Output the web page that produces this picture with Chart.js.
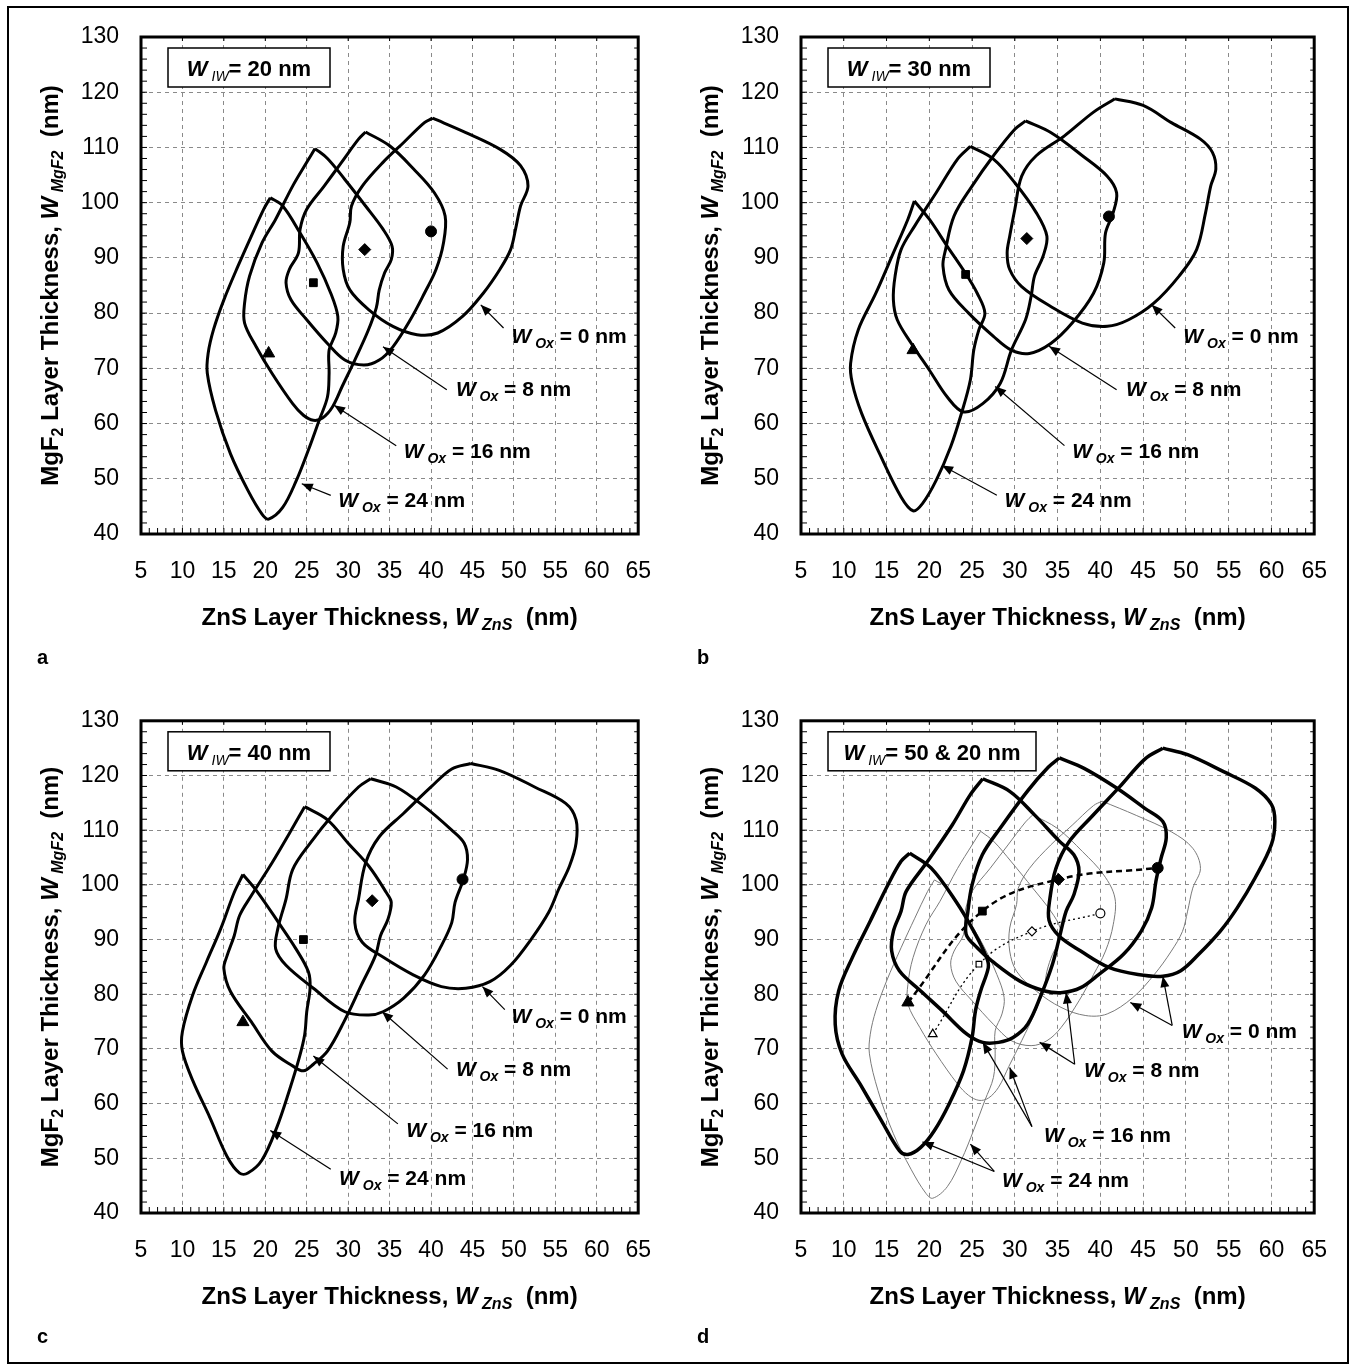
<!DOCTYPE html>
<html>
<head>
<meta charset="utf-8">
<script src="https://cdn.jsdelivr.net/npm/chart.js@4.4.1/dist/chart.umd.min.js"></script>
<style>
  html, body { margin: 0; padding: 0; background: #fff; }
  #page { position: relative; width: 1351px; height: 1370px; }
  #frame { position: absolute; left: 7px; top: 6px; width: 1342px; height: 1358px; border: 2px solid #000; box-sizing: border-box; pointer-events: none; }
  canvas { position: absolute; }
</style>
</head>
<body>
<div id="page">
  <div id="frame"></div>
  <canvas id="pa" width="675" height="685" style="left:0;top:0"></canvas>
  <canvas id="pb" width="676" height="685" style="left:675px;top:0"></canvas>
  <canvas id="pc" width="675" height="685" style="left:0;top:685px"></canvas>
  <canvas id="pd" width="676" height="685" style="left:675px;top:685px"></canvas>
</div>
<script>
// axis ticks
const xTicks = [5, 10, 15, 20, 25, 30, 35, 40, 45, 50, 55, 60, 65];
const yTicks = [40, 50, 60, 70, 80, 90, 100, 110, 120, 130];
const oxValues = [0, 8, 16, 24];
const iwLabels = ['20 nm', '30 nm', '40 nm', '50 & 20 nm'];

// contours [ZnS, MgF2] for W_IW = 20 nm
const iw20_ox0 = [[40.2,115.3],[44.2,112.7],[48.3,109.7],[50.8,106.7],[51.7,103],[50.8,99.4],[50.2,95.2],[49.6,91.5],[48.3,87.9],[46.3,83.6],[43.8,79.4],[40.8,76.4],[38.3,76.1],[35.4,77.6],[32.5,80.6],[30.2,84.2],[29.4,87.9],[29.4,92.1],[30.2,96.4],[30.4,99.4],[31.7,103],[34.2,107.3],[36.7,110.9],[39.2,114.5],[40.2,115.3]];
const iw20_ox8 = [[32.1,112.8],[35,110.3],[37.9,106.1],[40.4,101.8],[41.7,97.6],[41.5,92.7],[40.6,87.9],[39.2,83.6],[37.5,78.8],[35.4,73.9],[33.75,71.5],[31.9,70.6],[29.6,71.5],[27.5,74.5],[25,78.8],[23.1,82.4],[22.5,85.5],[22.9,87.9],[24,90.9],[24.2,95.2],[25,98.8],[27.1,103],[29.2,107.3],[31.25,111.5],[32.1,112.8]];
const iw20_ox16 = [[26,109.8],[27.5,108],[29.6,104.2],[32.1,99.4],[34.2,95.2],[35.3,92.1],[35.2,89.7],[34.4,87.3],[33.75,84.2],[33.4,81],[32.4,76.8],[30.8,71.5],[29.3,66.8],[28.1,63],[26.9,61],[25.8,60.6],[24.6,61.5],[23.3,63.6],[20.8,69.1],[18.9,73.9],[17.5,78.2],[17.5,81.8],[18.1,86.7],[19.6,92.7],[21.25,97],[23.3,103],[25,107.3],[26,109.8]];
const iw20_ox24 = [[20.6,100.9],[22.1,99.4],[24.2,94.5],[26.25,89.1],[27.9,83.6],[28.75,79.4],[28.5,76.4],[27.7,73.3],[27.7,69.1],[27.5,64.8],[26.5,60.6],[25.2,55.2],[23.75,49.7],[22.1,44.8],[20.4,42.7],[19.6,43.6],[17.9,47.9],[15.8,54.5],[14,62.4],[13,69.1],[13.1,72.7],[13.75,77],[15,82.4],[16.7,88.5],[18.3,93.9],[19.8,98.8],[20.6,100.9]];
const iw20_opt = [[20.4,72.7],[25.8,85.5],[32,91.5],[40,94.8]];

// W_IW = 30 nm
const iw30_ox0 = [[41.7,118.8],[45,117.6],[48.3,114.5],[51.7,111.5],[53.1,109.1],[53.5,106.1],[52.9,103],[52.3,98.2],[51.25,91.5],[49.2,86.7],[46.25,81.8],[43.3,78.8],[40.8,77.6],[37.9,78.2],[34.2,81.2],[30.8,84.8],[29.4,87.9],[29.1,90.9],[29.4,93.9],[30,98.8],[30.8,104.8],[32.5,108.5],[35.8,112.1],[39.2,116.4],[41.7,118.8]];
const iw30_ox8 = [[31.25,114.8],[34.2,112.7],[37.9,108.5],[40.8,104.8],[41.9,101.8],[41.5,98.2],[40.6,94.5],[40.4,89.1],[39.2,83.6],[36.7,78.2],[34.2,74.5],[31.7,72.7],[29.6,73.3],[27.5,75.8],[24.6,80],[22.3,84.2],[21.6,88.5],[21.9,91.5],[22.9,97.6],[25,103],[27.5,108.5],[30,113.3],[31.25,114.8]];
const iw30_ox16 = [[24.8,110.2],[27.5,107.9],[30,103.6],[32.5,98.2],[33.75,93.9],[33.3,90.3],[32.3,86.7],[31.9,83],[31.25,78.8],[29.6,73.3],[28.3,67.3],[26.25,63.6],[24,62.1],[22.1,64.8],[20,69.7],[17.9,74.5],[16.25,78.8],[15.8,82.4],[16,86.7],[16.7,91.5],[18.3,95.8],[20.8,101.8],[23.3,107.9],[24.8,110.2]];
const iw30_ox24 = [[18.25,100.3],[20,97],[22.1,92.1],[24.2,87.3],[25.6,83.6],[26.5,80],[25.8,77],[25.2,73.3],[24.8,67.9],[23.75,61.8],[22.5,55.8],[20.8,49.7],[19.2,45.5],[18.1,44.2],[16.7,46.7],[14.2,54.5],[12.1,61.8],[11,67.3],[10.8,70.9],[11.7,77],[13.75,83.6],[15.8,90.9],[17.5,97],[18.25,100.3]];
const iw30_opt = [[18.1,73.3],[24.25,87],[31.4,93.5],[41,97.5]];

// W_IW = 40 nm
const iw40_ox0 = [[44.8,122.2],[48.3,120.9],[52.5,117.9],[56.25,114.9],[57.5,111.9],[57.5,107.6],[56.7,103.4],[55.4,99.2],[54.2,95],[52.1,90.1],[49.6,85.3],[47.1,82.3],[44.2,81.1],[41.25,81.4],[37.9,83.5],[34.2,86.8],[31.7,89.5],[30.8,93.1],[31.25,97.4],[32.1,104],[33.75,108.8],[36.7,113.1],[40,117.9],[42.5,121.2],[44.8,122.2]];
const iw40_ox8 = [[32.7,119.4],[35.8,117.9],[39.2,114.3],[42.5,110],[44,107.6],[44.4,104.6],[43.9,101],[42.9,96.8],[42.5,93.1],[41.25,88.9],[39.2,83.5],[36.7,79.3],[34.2,76.8],[32.5,76.2],[29.6,76.8],[25.8,81.1],[22.5,85.3],[21.25,88.3],[21.5,91.9],[22.5,97.4],[23.3,102.8],[25.4,107.6],[28.3,113.1],[31.25,117.9],[32.7,119.4]];
const iw40_ox16 = [[24.75,114.3],[27.5,111.9],[30,107.6],[32.5,103.4],[34.6,98.6],[35.2,96.8],[34.8,93.7],[33.9,90.7],[33.3,87.1],[31.6,81.7],[29.5,75],[27.5,69.6],[25.8,67.2],[24.6,66],[23.3,66.9],[20.8,69.6],[18.3,75],[15.8,80.5],[15,84.7],[15.4,87.1],[16.25,90.7],[16.9,94.4],[18.3,98],[20.8,104],[22.9,109.4],[24.75,114.3]];
const iw40_ox24 = [[17.3,101.9],[19.1,98.6],[21.6,93.1],[23.7,88.3],[25.2,84.1],[25.4,81.1],[25,76.8],[24.75,72.6],[24.1,68.4],[22.9,62.4],[21.4,55.7],[19.6,49.7],[17.9,47.3],[16.9,47.3],[15.4,50.3],[13.3,57.5],[11.25,64.2],[10,69.6],[10,73.2],[11.25,79.9],[12.9,85.9],[14.6,91.9],[16.25,98.6],[17.3,101.9]];
const iw40_opt = [[17.3,74.9],[24.6,90],[32.9,97.1],[43.8,101]];

// W_IW = 50 nm
const iw50_ox0 = [[47.3,125],[50.2,123.8],[54.4,120.7],[58.1,117.7],[60,114.7],[60.4,111.6],[60,107.4],[58.1,101.3],[56,95.8],[54,91.5],[51.5,87.3],[49.4,84.3],[47.3,83.3],[44.4,83.6],[41,84.9],[37.7,87.9],[35.2,90.6],[34,93.5],[34.1,97.5],[34.8,103],[36.3,107.8],[39,112.5],[42.3,118],[45.2,123],[47.3,125]];
const iw50_ox8 = [[35.2,123.2],[38.1,121.3],[41.9,117.7],[45.2,114],[47.3,111.6],[47.7,108.6],[47.1,104.9],[46.5,100.7],[46,95.8],[44.8,91.6],[42.7,87.3],[39.8,83.6],[37.7,81.2],[35.6,80.3],[33.5,80.6],[30.6,82.4],[27.3,86.1],[25.6,88.5],[24.3,91],[24.5,95],[25,100],[26.2,105.5],[28.3,110.4],[31.5,117.2],[33.9,121.5],[35.2,123.2]];
const iw50_ox16 = [[26.25,119.4],[29.4,117.1],[32.3,112.8],[35.2,108],[36.9,105.5],[37.5,102.5],[36.9,98.2],[36,95.2],[35.2,90.3],[34.4,85.5],[33.1,80],[31.5,74.5],[29.8,72.1],[28.1,71.2],[26.25,71.2],[24.4,72.7],[21.5,77],[19,80.6],[16.5,84.3],[15.6,87.9],[15.8,91.5],[16.7,95.2],[17.3,98.8],[19.8,104.3],[22.7,111],[24.8,116.5],[26.25,119.4]];
const iw50_ox24 = [[17.7,105.8],[20.2,103.1],[23.1,97],[25.2,91.5],[26.7,86.7],[26.9,84.9],[26,80.6],[25.4,77],[25,72.1],[24,66],[22.3,59.9],[20.6,55.1],[19,52],[17.5,50.7],[16.5,51.4],[14.4,56.9],[11.9,63.6],[9.8,69.1],[9,74.5],[9.4,80.6],[11,86.7],[13.1,93.4],[15.2,100.1],[16.7,104.3],[17.7,105.8]];
const iw50_opt = [[17.5,78.5],[26.2,95.2],[35.1,101],[46.7,103.1]];

const FONT = '"Liberation Sans", Arial, Helvetica, sans-serif';
const F = (style, size) => `${style} ${size}px ${FONT}`;
const toXY = arr => arr.map(p => ({ x: p[0], y: p[1] }));
const markerStyles = ['triangle', 'rect', 'rectRot', 'circle'];

function rich(ctx, parts, x, y, align) {
  let w = 0;
  for (const p of parts) { ctx.font = p.f; w += ctx.measureText(p.t).width; }
  let cx = align === 'center' ? x - w / 2 : x;
  ctx.textAlign = 'left';
  ctx.textBaseline = 'alphabetic';
  for (const p of parts) {
    ctx.font = p.f;
    ctx.fillText(p.t, cx, y + (p.dy || 0));
    cx += ctx.measureText(p.t).width;
  }
}

function arrow(ctx, x0, y0, x1, y1) {
  ctx.beginPath(); ctx.moveTo(x0, y0); ctx.lineTo(x1, y1); ctx.stroke();
  const a = Math.atan2(y1 - y0, x1 - x0), L = 11, W = 4.5;
  const bx = x1 - L * Math.cos(a), by = y1 - L * Math.sin(a);
  ctx.beginPath();
  ctx.moveTo(x1, y1);
  ctx.lineTo(bx + W * Math.sin(a), by - W * Math.cos(a));
  ctx.lineTo(bx - W * Math.sin(a), by + W * Math.cos(a));
  ctx.closePath(); ctx.fill();
}

const decor = {
  id: 'decor',
  afterDatasetsDraw(chart, args, o) {
    const { ctx, chartArea: a } = chart;
    const x = chart.scales.x, y = chart.scales.y;
    ctx.save();
    ctx.strokeStyle = '#000';
    ctx.fillStyle = '#000';
    ctx.lineWidth = 1;
    ctx.setLineDash([]);
    ctx.beginPath();
    for (let v = xTicks[0] + 1; v < xTicks[xTicks.length - 1]; v++) {
      const px = x.getPixelForValue(v);
      ctx.moveTo(px, a.bottom); ctx.lineTo(px, a.bottom - 6);
    }
    for (let v = yTicks[0] + 2; v < yTicks[yTicks.length - 1]; v += 2) {
      const py = y.getPixelForValue(v);
      ctx.moveTo(a.left, py); ctx.lineTo(a.left + 6, py);
      ctx.moveTo(a.right, py); ctx.lineTo(a.right - 4, py);
    }
    for (const v of xTicks.slice(1, -1)) {
      const px = x.getPixelForValue(v);
      ctx.moveTo(px, a.top); ctx.lineTo(px, a.top + 4);
    }
    ctx.stroke();
    ctx.lineWidth = 3;
    ctx.strokeRect(a.left, a.top, a.right - a.left, a.bottom - a.top);

    // W_IW box
    const bx = a.left + 27, by = a.top + 11;
    ctx.fillStyle = '#fff';
    ctx.fillRect(bx, by, o.boxW, 39);
    ctx.lineWidth = 1.5;
    ctx.strokeRect(bx, by, o.boxW, 39);
    ctx.fillStyle = '#000';
    rich(ctx, [
      { t: 'W', f: F('italic bold', 22) },
      { t: ' IW', f: F('italic', 14), dy: 5 },
      { t: '= ' + o.iw, f: F('bold', 22) }
    ], bx + o.boxW / 2, by + 28, 'center');

    // W_Ox labels and arrows
    ctx.lineWidth = 1.2;
    for (const lab of o.labels) {
      const tx = x.getPixelForValue(lab.tail[0]), ty = y.getPixelForValue(lab.tail[1]);
      for (const tip of lab.tips) {
        arrow(ctx, tx, ty, x.getPixelForValue(tip[0]), y.getPixelForValue(tip[1]));
      }
      rich(ctx, [
        { t: 'W', f: F('italic bold', 21) },
        { t: ' Ox', f: F('italic bold', 14), dy: 5 },
        { t: ' = ' + lab.ox + ' nm', f: F('bold', 21) }
      ], x.getPixelForValue(lab.at[0]), y.getPixelForValue(lab.at[1]) + 8, 'left');
    }
    ctx.restore();
  },
  afterDraw(chart, args, o) {
    const { ctx, chartArea: a } = chart;
    ctx.save();
    ctx.fillStyle = '#000';
    rich(ctx, [
      { t: 'ZnS Layer Thickness, ', f: F('bold', 24) },
      { t: 'W', f: F('italic bold', 24) },
      { t: ' ZnS', f: F('italic bold', 16), dy: 5 },
      { t: '  (nm)', f: F('bold', 24) }
    ], (a.left + a.right) / 2, a.bottom + 91, 'center');
    ctx.translate(a.left - 92, (a.top + a.bottom) / 2);
    ctx.rotate(-Math.PI / 2);
    rich(ctx, [
      { t: 'MgF', f: F('bold', 24) },
      { t: '2', f: F('bold', 16), dy: 5 },
      { t: ' Layer Thickness, ', f: F('bold', 24) },
      { t: 'W', f: F('italic bold', 24) },
      { t: ' MgF2', f: F('italic bold', 16), dy: 5 },
      { t: '  (nm)', f: F('bold', 24) }
    ], 0, 9, 'center');
    ctx.restore();
    ctx.save();
    ctx.fillStyle = '#000';
    ctx.font = F('bold', 20);
    ctx.textAlign = 'left';
    ctx.textBaseline = 'middle';
    ctx.fillText(o.letter, a.left - 104, a.bottom + 124);
    ctx.restore();
  }
};

function curve(arr, width, color) {
  return { data: toXY(arr), showLine: true, borderColor: color, borderWidth: width,
           pointRadius: 0, tension: 0.35, fill: false };
}
function markers(arr, filled, radii) {
  return { data: toXY(arr), showLine: false, pointStyle: markerStyles, pointRadius: radii,
           backgroundColor: filled ? '#000' : '#fff', borderColor: '#000', borderWidth: filled ? 1 : 1.2 };
}
function link(arr, width, dash) {
  return { data: toXY(arr), showLine: true, borderColor: '#000', borderWidth: width, borderDash: dash,
           pointRadius: 0, tension: 0.4, fill: false };
}

function makeChart(id, cfg) {
  const gridColor = c => (c.tick && (c.tick.value === xTicks[0] || c.tick.value === xTicks[xTicks.length - 1] ||
                                     (c.scale.axis === 'y' && (c.tick.value === yTicks[0] || c.tick.value === yTicks[yTicks.length - 1]))))
                         ? 'rgba(0,0,0,0)' : '#8a8a8a';
  return new Chart(document.getElementById(id), {
    type: 'scatter',
    data: { datasets: cfg.datasets },
    plugins: [decor],
    options: {
      responsive: false,
      animation: false,
      events: [],
      layout: { padding: cfg.pad },
      scales: {
        x: {
          type: 'linear', min: xTicks[0], max: xTicks[xTicks.length - 1],
          afterBuildTicks: s => { s.ticks = xTicks.map(v => ({ value: v })); },
          afterFit: s => { s.height = 60; },
          grid: { color: gridColor, lineWidth: 1, drawTicks: false },
          border: { display: false, dash: [4, 4] },
          ticks: { padding: 24, color: '#000', font: { family: FONT, size: 23 }, maxRotation: 0 }
        },
        y: {
          type: 'linear', min: yTicks[0], max: yTicks[yTicks.length - 1],
          afterBuildTicks: s => { s.ticks = yTicks.map(v => ({ value: v })); },
          afterFit: s => { s.width = 60; },
          grid: { color: gridColor, lineWidth: 1, drawTicks: false },
          border: { display: false, dash: [4, 4] },
          ticks: { padding: 22, color: '#000', font: { family: FONT, size: 23 } }
        }
      },
      plugins: {
        legend: { display: false },
        tooltip: { enabled: false },
        decor: { letter: cfg.letter, iw: cfg.iw, boxW: cfg.boxW, labels: cfg.labels }
      }
    }
  });
}

function setLabels(pos) {
  return oxValues.map((ox, i) => Object.assign({ ox }, pos[i]));
}

const topPad = { left: 81, right: 19, top: 37, bottom: 91 };
const topPadR = { left: 66, right: 35, top: 37, bottom: 91 };
const botPad = { left: 81, right: 19, top: 31, bottom: 97 };
const botPadR = { left: 66, right: 35, top: 31, bottom: 97 };

makeChart('pa', {
  letter: 'a', iw: iwLabels[0], boxW: 162, pad: topPad,
  datasets: [markers(iw20_opt, true, [7, 5.5, 6, 5.5]),
             curve(iw20_ox0, 3, '#000'), curve(iw20_ox8, 3, '#000'), curve(iw20_ox16, 3, '#000'), curve(iw20_ox24, 3, '#000')],
  labels: setLabels([
    { at: [49.7, 76], tail: [48.75, 77.3], tips: [[46, 81.5]] },
    { at: [43, 66.4], tail: [41.9, 66.1], tips: [[34.2, 73.9]] },
    { at: [36.7, 55.2], tail: [35.8, 56], tips: [[28.3, 63.3]] },
    { at: [28.8, 46.4], tail: [27.9, 47], tips: [[24.4, 49.1]] }
  ])
});

makeChart('pb', {
  letter: 'b', iw: iwLabels[1], boxW: 162, pad: topPadR,
  datasets: [markers(iw30_opt, true, [7, 5.5, 6, 5.5]),
             curve(iw30_ox0, 3, '#000'), curve(iw30_ox8, 3, '#000'), curve(iw30_ox16, 3, '#000'), curve(iw30_ox24, 3, '#000')],
  labels: setLabels([
    { at: [49.7, 76], tail: [48.75, 77.3], tips: [[46, 81.5]] },
    { at: [43, 66.4], tail: [41.9, 66.1], tips: [[34, 74]] },
    { at: [36.7, 55.2], tail: [35.8, 56], tips: [[27.7, 66.7]] },
    { at: [28.8, 46.4], tail: [27.9, 47], tips: [[21.5, 52.4]] }
  ])
});

makeChart('pc', {
  letter: 'c', iw: iwLabels[2], boxW: 162, pad: botPad,
  datasets: [markers(iw40_opt, true, [7, 5.5, 6, 5.5]),
             curve(iw40_ox0, 3, '#000'), curve(iw40_ox8, 3, '#000'), curve(iw40_ox16, 3, '#000'), curve(iw40_ox24, 3, '#000')],
  labels: setLabels([
    { at: [49.7, 76.2], tail: [48.9, 77.2], tips: [[46.2, 81.4]] },
    { at: [43, 66.6], tail: [42, 66.3], tips: [[34.1, 76.8]] },
    { at: [37, 55.4], tail: [36, 56.3], tips: [[25.8, 68.7]] },
    { at: [28.9, 46.6], tail: [27.9, 48], tips: [[20.6, 55.1]] }
  ])
});

makeChart('pd', {
  letter: 'd', iw: iwLabels[3], boxW: 208, pad: botPadR,
  datasets: [markers(iw50_opt, true, [7, 5.5, 6, 5.5]),
             markers(iw20_opt, false, [5, 4, 4.5, 4.5]),
             link(iw50_opt, 2.5, [6, 4]),
             link(iw20_opt, 1.3, [2, 3]),
             curve(iw50_ox0, 3.5, '#000'), curve(iw50_ox8, 3.5, '#000'), curve(iw50_ox16, 3.5, '#000'), curve(iw50_ox24, 3.5, '#000'),
             curve(iw20_ox0, 1, '#7a7a7a'), curve(iw20_ox8, 1, '#7a7a7a'), curve(iw20_ox16, 1, '#7a7a7a'), curve(iw20_ox24, 1, '#7a7a7a')],
  labels: setLabels([
    { at: [49.5, 73.5], tail: [48.4, 74.3], tips: [[47.3, 83.3], [43.5, 78.5]] },
    { at: [38.1, 66.3], tail: [37, 67.2], tips: [[36, 80.3], [32.9, 71.2]] },
    { at: [33.4, 54.5], tail: [32, 55.8], tips: [[26.25, 71.2], [29.4, 66.6]] },
    { at: [28.5, 46.2], tail: [27.6, 47.6], tips: [[19.2, 53], [24.8, 52.6]] }
  ])
});
</script>
</body>
</html>
